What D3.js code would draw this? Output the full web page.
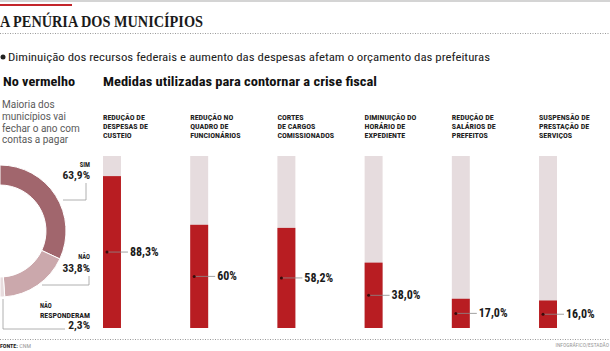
<!DOCTYPE html>
<html>
<head>
<meta charset="utf-8">
<script src="https://cdn.jsdelivr.net/npm/d3@7"></script>
<style>
  body { margin: 0; background: #fff; }
  svg { display: block; }
  .cond { font-family: "Roboto Condensed", "Liberation Sans Narrow", "DejaVu Sans Condensed", "Roboto", sans-serif; }
</style>
</head>
<body>
<div id="chart"></div>
<script>
// medidas adotadas pelos municipios
const medidas = [
  ["REDUÇÃO DE", "DESPESAS DE", "CUSTEIO"],
  ["REDUÇÃO NO", "QUADRO DE", "FUNCIONÁRIOS"],
  ["CORTES", "DE CARGOS", "COMISSIONADOS"],
  ["DIMINUIÇÃO DO", "HORÁRIO DE", "EXPEDIENTE"],
  ["REDUÇÃO DE", "SALÁRIOS DE", "PREFEITOS"],
  ["SUSPENSÃO DE", "PRESTAÇÃO DE", "SERVIÇOS"]
];
const valores = [88.3, 60, 58.2, 38.0, 17.0, 16.0];
const rotulos = ["88,3%", "60%", "58,2%", "38,0%", "17,0%", "16,0%"];

// pergunta: vai fechar o ano com contas a pagar?
const respostas = ["SIM", "NÃO", "NÃO RESPONDERAM"];
const percentuais = [63.9, 33.8, 2.3];
const rotulosPizza = ["63,9%", "33,8%", "2,3%"];

const width = 610, height = 351;
const cond = "cond";

const svg = d3.select("#chart").append("svg")
  .attr("width", width)
  .attr("height", height);

// header rules
svg.append("rect").attr("x", 0).attr("y", 0).attr("width", width).attr("height", 2).attr("fill", "#d4d4d4");
svg.append("rect").attr("x", 0).attr("y", 4).attr("width", 72).attr("height", 2).attr("fill", "#c3252b");

svg.append("text")
  .attr("x", 0).attr("y", 27)
  .attr("font-family", "'Liberation Serif', 'DejaVu Serif', serif")
  .attr("font-weight", "bold")
  .attr("font-size", 17)
  .attr("fill", "#1a1a1a")
  .attr("textLength", 203).attr("lengthAdjust", "spacingAndGlyphs")
  .text("A PENÚRIA DOS MUNICÍPIOS");

function dotted(y) {
  svg.append("line")
    .attr("x1", 0).attr("x2", width).attr("y1", y).attr("y2", y)
    .attr("stroke", "#9a9a9a").attr("stroke-width", 1)
    .attr("stroke-dasharray", "1,1.5");
}
dotted(33.5);
dotted(339.5);

svg.append("circle").attr("cx", 3).attr("cy", 57).attr("r", 2.5).attr("fill", "#222");
svg.append("text")
  .attr("class", cond)
  .attr("x", 8).attr("y", 61)
  .attr("font-size", 11)
  .attr("fill", "#222")
  .attr("textLength", 482).attr("lengthAdjust", "spacingAndGlyphs")
  .text("Diminuição dos recursos federais e aumento das despesas afetam o orçamento das prefeituras");

svg.append("text")
  .attr("class", cond)
  .attr("x", 3).attr("y", 86)
  .attr("font-size", 12.5).attr("font-weight", "bold")
  .attr("fill", "#111")
  .attr("textLength", 72).attr("lengthAdjust", "spacingAndGlyphs")
  .text("No vermelho");

svg.append("text")
  .attr("class", cond)
  .attr("x", 103).attr("y", 86)
  .attr("font-size", 12.5).attr("font-weight", "bold")
  .attr("fill", "#111")
  .attr("textLength", 274).attr("lengthAdjust", "spacingAndGlyphs")
  .text("Medidas utilizadas para contornar a crise fiscal");

// left intro text
const intro = ["Maioria dos", "municípios vai", "fechar o ano com", "contas a pagar"];
svg.append("g").selectAll("text")
  .data(intro)
  .join("text")
  .attr("x", 2)
  .attr("y", (d, i) => 108 + i * 11.8)
  .attr("font-family", "Roboto, 'Liberation Sans', sans-serif")
  .attr("font-size", 10)
  .attr("fill", "#5a5a5a")
  .text(d => d);

// half donut
const pie = d3.pie().sort(null).startAngle(0).endAngle(Math.PI);
const arc = d3.arc().innerRadius(46).outerRadius(66);
const corPizza = d3.scaleOrdinal().domain(respostas).range(["#a1666d", "#cba8ac", "#e8dcde"]);

const donut = svg.append("g").attr("transform", "translate(0,231)");
donut.selectAll("path")
  .data(pie(percentuais))
  .join("path")
  .attr("d", arc)
  .attr("fill", (d, i) => corPizza(respostas[i]))
  .attr("stroke", "#fff")
  .attr("stroke-width", 1);

// donut labels + leaders
const leaders = [
  [[63, 200], [86, 200], [86, 183]],
  [[42, 285], [89, 285], [89, 276]],
  [[3, 299], [3, 329], [65, 329]]
];
svg.append("g").selectAll("path")
  .data(leaders)
  .join("path")
  .attr("d", d => d3.line()(d))
  .attr("fill", "none")
  .attr("stroke", "#9d9d9d")
  .attr("stroke-width", 0.8);

const smallLab = svg.append("g").attr("class", cond)
  .attr("font-weight", "bold").attr("font-size", 6.5).attr("fill", "#222");
smallLab.append("text").attr("x", 90).attr("y", 167).attr("text-anchor", "end").text("SIM");
smallLab.append("text").attr("x", 90).attr("y", 259).attr("text-anchor", "end").text("NÃO");
smallLab.append("text").attr("x", 40).attr("y", 308).text("NÃO");
smallLab.append("text").attr("x", 40).attr("y", 318).attr("textLength", 50).attr("lengthAdjust", "spacingAndGlyphs").text("RESPONDERAM");

svg.append("g").selectAll("text")
  .data(rotulosPizza)
  .join("text")
  .attr("class", cond)
  .attr("x", 90)
  .attr("y", (d, i) => [179, 272, 329][i])
  .attr("text-anchor", "end")
  .attr("font-size", 11.5).attr("font-weight", "bold")
  .attr("fill", "#222")
  .text(d => d);

// bars
const x = d3.scaleBand()
  .domain(d3.range(medidas.length))
  .range([103, 557])
  .paddingInner(0.794);
const y = d3.scaleLinear().domain([0, 100]).range([328, 156]);

const barras = svg.append("g").selectAll("g")
  .data(valores)
  .join("g")
  .attr("transform", (d, i) => `translate(${x(i)},0)`);

barras.append("rect")
  .attr("y", y(100)).attr("width", x.bandwidth())
  .attr("height", y(0) - y(100))
  .attr("fill", "#e6dcde");

barras.append("rect")
  .attr("y", d => y(d)).attr("width", x.bandwidth())
  .attr("height", d => y(0) - y(d))
  .attr("fill", "#b81d22");

barras.each(function (d, i) {
  d3.select(this).append("text")
    .attr("class", cond)
    .attr("font-size", 8).attr("font-weight", "bold")
    .attr("fill", "#222")
    .selectAll("tspan")
    .data(medidas[i])
    .join("tspan")
    .attr("x", 0)
    .attr("y", (t, j) => 120 + j * 9)
    .text(t => t);
});

const meio = d => (y(d) + y(0)) / 2;
barras.append("line")
  .attr("x1", 4).attr("x2", x.bandwidth() + 7)
  .attr("y1", meio).attr("y2", meio)
  .attr("stroke", "#8a8a8a").attr("stroke-width", 0.8);
barras.append("circle")
  .attr("cx", 4).attr("cy", meio).attr("r", 1.5)
  .attr("fill", "#3a0a0a");
barras.append("text")
  .attr("class", cond)
  .attr("x", x.bandwidth() + 9)
  .attr("y", d => meio(d) + 4)
  .attr("font-size", 12).attr("font-weight", "bold")
  .attr("fill", "#1a1a1a")
  .text((d, i) => rotulos[i]);

// footer
const fonte = svg.append("text").attr("class", cond).attr("x", 0).attr("y", 348).attr("font-size", 6);
fonte.append("tspan").attr("font-weight", "bold").attr("fill", "#222").text("FONTE: ");
fonte.append("tspan").attr("fill", "#999").text("CNM");
svg.append("text").attr("class", cond)
  .attr("x", 609).attr("y", 347).attr("text-anchor", "end")
  .attr("font-size", 5.5).attr("fill", "#999")
  .text("INFOGRÁFICO/ESTADÃO");
</script>
</body>
</html>
